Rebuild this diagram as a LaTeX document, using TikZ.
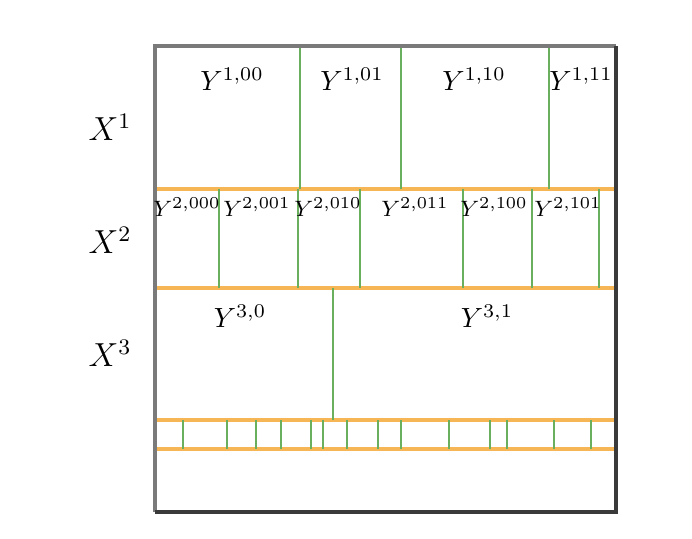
\documentclass[tikz,border=0pt]{standalone}
\usepackage{xcolor}
\usepackage{tikz}
\usepackage{amsmath}
\usetikzlibrary{positioning}
\definecolor{splitgreen}{HTML}{6AAF5E}
\definecolor{levelorange}{HTML}{F6B656}
\definecolor{framegray}{HTML}{7A7A7A}
\definecolor{framedark}{HTML}{3A3A3A}

\begin{document}
\begin{tikzpicture}[x=0.36pt, y=-0.36pt,
    frame/.style={line width=1.1pt, color=framegray},
    level/.style={line width=1.1pt, color=levelorange},
    split/.style={line width=1pt, color=splitgreen},
    cell/.style={inner sep=0pt, font=\normalsize},
    smallcell/.style={inner sep=0pt, font=\footnotesize},
    var/.style={inner sep=0pt, font=\large}
]
\useasboundingbox (0,0) rectangle (692,538);

% Level boundaries
\draw[level] (155,189) -- (616,189);
\draw[level] (155,288) -- (616,288);
\draw[level] (155,420) -- (616,420);
\draw[level] (155,449) -- (616,449);

% Splits of level 1
\foreach \x in {300,401,549}
  \draw[split] (\x,46) -- (\x,189);
% Splits of level 2
\foreach \x in {219,298,360,463,532,599}
  \draw[split] (\x,189) -- (\x,288);
% Split of level 3
\draw[split] (333,288) -- (333,420);
% Fine splits
\foreach \x in {183,227,256,281,311,323,347,378,401,449,490,507,554,591}
  \draw[split] (\x,420) -- (\x,449);

% Outer frame
\draw[frame] (155,512) -- (155,46) -- (616,46);
\draw[frame, color=framedark] (616,46) -- (616,512) -- (155,512);

% Variables
\node[var] (x1) at (110,127) {$X^1$};
\node[var] (x2) at (110,240) {$X^2$};
\node[var] (x3) at (110,353) {$X^3$};

% Cells of level 1
\node[cell] (y100) at (232,79) {$Y^{1,00}$};
\node[cell] (y101) at (352,79) {$Y^{1,01}$};
\node[cell] (y110) at (474,79) {$Y^{1,10}$};
\node[cell] (y111) at (581,79) {$Y^{1,11}$};

% Cells of level 2
\node[smallcell] (y2000) at (187,207) {$Y^{2,000}$};
\node[smallcell] (y2001) at (257,207) {$Y^{2,001}$};
\node[smallcell] (y2010) at (328,207) {$Y^{2,010}$};
\node[smallcell] (y2011) at (415,207) {$Y^{2,011}$};
\node[smallcell] (y2100) at (494,207) {$Y^{2,100}$};
\node[smallcell] (y2101) at (568,207) {$Y^{2,101}$};

% Cells of level 3
\node[cell] (y30) at (240,316) {$Y^{3,0}$};
\node[cell] (y31) at (487,316) {$Y^{3,1}$};

\end{tikzpicture}
\end{document}
